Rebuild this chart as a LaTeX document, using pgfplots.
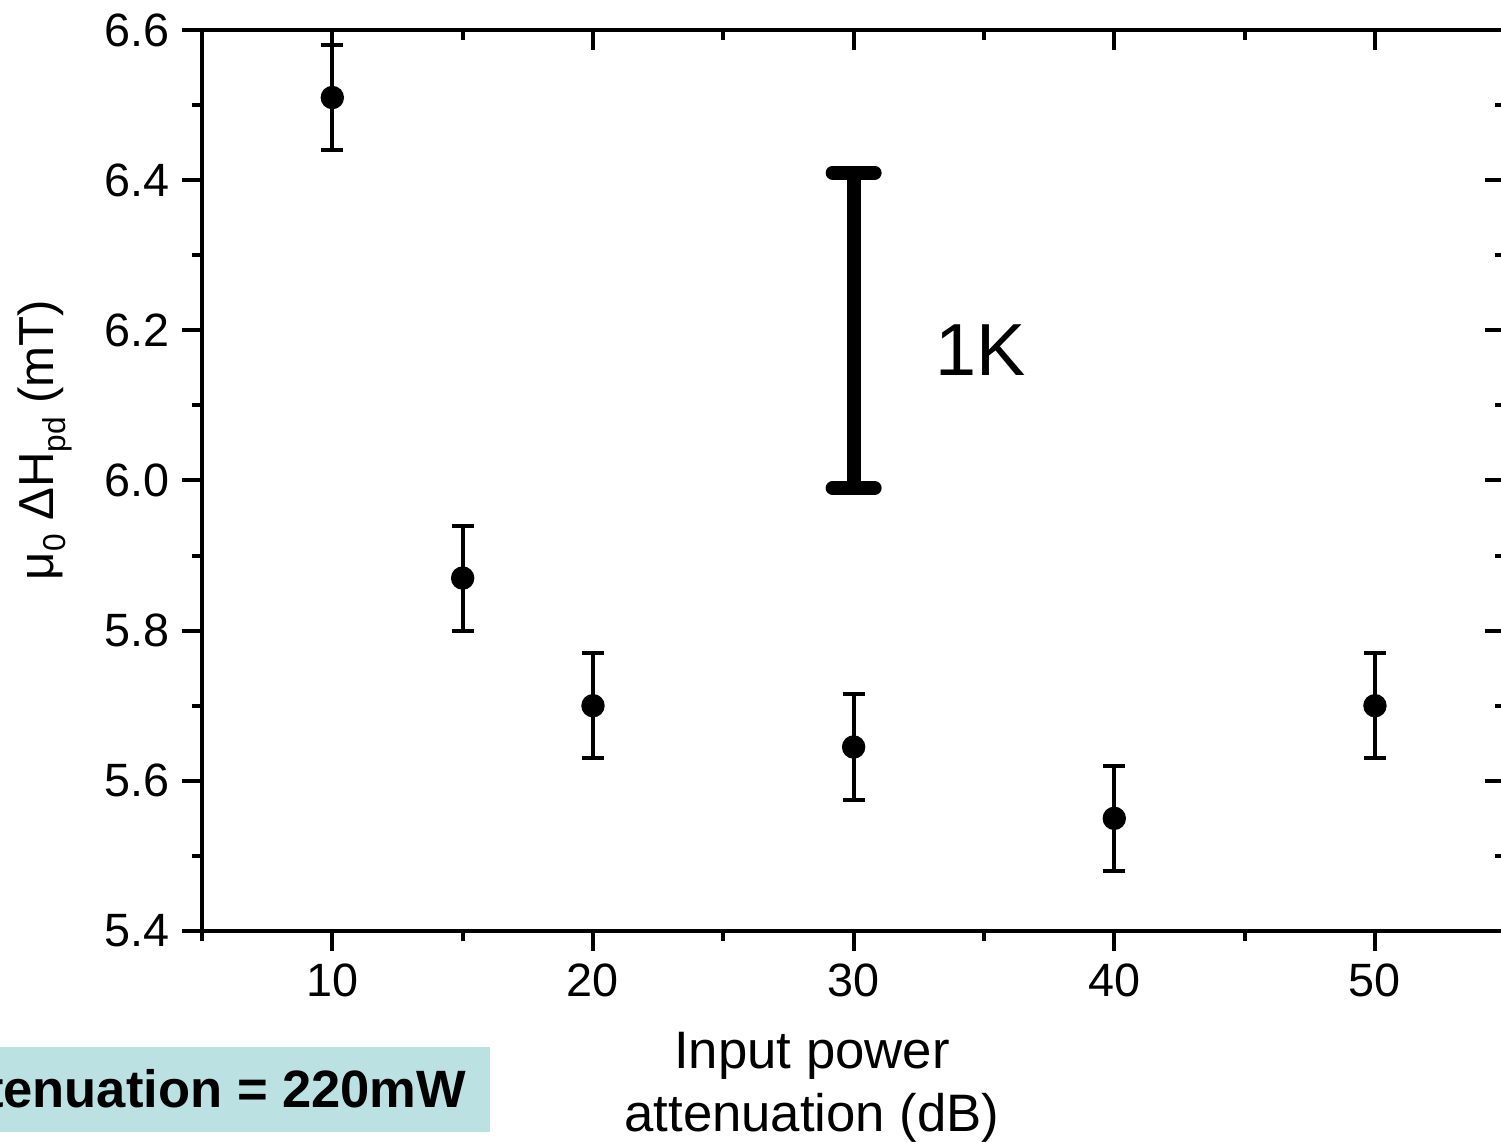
\documentclass[border=0pt]{standalone}
\usepackage{fontspec}
\setmainfont{Liberation Sans}
\usepackage{pgfplots}
\pgfplotsset{compat=1.18}
\definecolor{boxfill}{HTML}{BCE1E2}

\pgfplotsset{
  base/.style={
    scale only axis, width=130.33mm, height=90.1mm,
    at={(0,0)}, anchor=south west,
    xmin=5, xmax=55, ymin=5.4, ymax=6.6,
    xtick={10,20,30,40,50}, minor xtick={5,15,25,35,45,55},
    ytick={5.4,5.6,5.8,6.0,6.2,6.4,6.6},
    minor ytick={5.5,5.7,5.9,6.1,6.3,6.5},
    axis line style={line width=0.45mm},
    tick style={line width=0.4mm, black},
    major tick length=2mm, minor tick length=1mm,
  }
}
\newcommand{\lowsub}[1]{\raisebox{-0.45ex}{\fontsize{9}{10}\selectfont #1}}

\begin{document}
\begin{tikzpicture}[x=1mm,y=1mm]
\begin{axis}[base,
    tick align=outside, xtick pos=left, ytick pos=left,
    ticklabel style={font=\fontsize{13.3}{15}\selectfont},
    /pgf/number format/assume math mode=true,
    y tick label style={/pgf/number format/.cd, fixed, fixed zerofill, precision=1},
]
% measured points
\addplot[black, only marks, mark=*, mark size=1.1mm,
  error bars/.cd, y dir=both, y explicit,
  error bar style={line width=0.4mm},
  error mark options={rotate=90, mark size=1.1mm, line width=0.4mm}]
coordinates {
  (10,6.51)  +- (0,0.07)
  (15,5.87)  +- (0,0.07)
  (20,5.70)  +- (0,0.07)
  (30,5.645) +- (0,0.07)
  (40,5.55)  +- (0,0.07)
  (50,5.70)  +- (0,0.07)
};
% 1K scale bar
\addplot[black, mark=none, forget plot,
  error bars/.cd, y dir=both, y explicit,
  error bar style={line width=1.4mm},
  error mark options={rotate=90, mark size=2.1mm, line width=1.4mm, line cap=round}]
coordinates {(30,6.2) +- (0,0.21)};
\end{axis}
\begin{axis}[base,
    tick align=inside, xtick pos=right, ytick pos=right,
    xticklabels={}, yticklabels={},
]
\end{axis}

\node[font=\fontsize{21}{25}\selectfont] at (77.9,58.1) {1K};
\node[font=\fontsize{15}{17}\selectfont, align=center, text depth=0pt] at (61.0,-15.1)
  {Input power\\[0.4mm]attenuation (dB)};
\node[font=\fontsize{14}{16}\selectfont, rotate=90] at (-15.7,49.1)
  {μ\lowsub{0} ΔH\lowsub{pd} (mT)};

\fill[boxfill] (-60,-20.1) rectangle (28.8,-11.6);
\node[font=\bfseries\fontsize{14.95}{17}\selectfont, anchor=base east, inner sep=0pt]
  at (26.5,-17.7) {Input power before attenuation = 220mW};

\pgfresetboundingbox
\path[use as bounding box] (-20.2,-21.1) rectangle (129.9,93.1);
\end{tikzpicture}
\end{document}
